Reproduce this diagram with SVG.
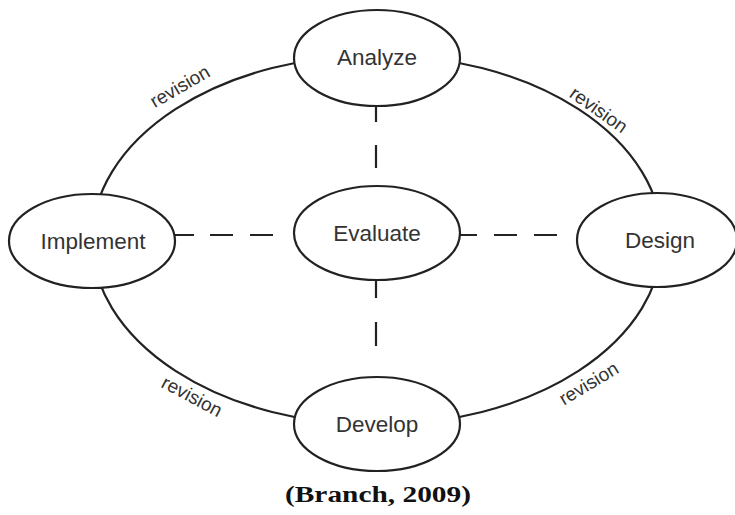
<svg xmlns="http://www.w3.org/2000/svg" width="735" height="515" viewBox="0 0 735 515">
<style>
.node ellipse{fill:#fff;stroke:#222;stroke-width:2.2}
.lbl{font-family:"Liberation Sans",Arial,sans-serif;font-size:22.5px;fill:#333;text-anchor:middle}
.rev{font-family:"Liberation Sans",Arial,sans-serif;font-size:19px;fill:#333;text-anchor:middle}
.dash{stroke:#222;stroke-width:2.2;fill:none}
.cap{font-family:"Liberation Serif","Times New Roman",serif;font-weight:bold;font-size:23px;fill:#111;text-anchor:middle}
</style>
<rect width="735" height="515" fill="#fff"/>
<g id="connectors">
<ellipse cx="377" cy="240" rx="285" ry="185" fill="none" stroke="#222" stroke-width="2.2"/>
<path class="dash" d="M173 235H194M210 235H233M250 235H273M457 235H477M494 235H517M534 235H557M376 100V122M376 145V168M376 279V298M376 322V346"/>
<text class="rev" transform="translate(183,92) rotate(-30)">revision</text>
<text class="rev" transform="translate(595,115) rotate(35)">revision</text>
<text class="rev" transform="translate(189,402) rotate(28)">revision</text>
<text class="rev" transform="translate(592,389) rotate(-31)">revision</text>
</g>
<g id="analyze" class="node"><ellipse cx="377" cy="58" rx="83" ry="48"/><text class="lbl" x="377" y="65">Analyze</text></g>
<g id="implement" class="node"><ellipse cx="92" cy="241" rx="83" ry="47"/><text class="lbl" x="93" y="249">Implement</text></g>
<g id="evaluate" class="node"><ellipse cx="377" cy="233" rx="83" ry="47"/><text class="lbl" x="377" y="241">Evaluate</text></g>
<g id="design" class="node"><ellipse cx="657" cy="240" rx="80" ry="47"/><text class="lbl" x="660" y="248">Design</text></g>
<g id="develop" class="node"><ellipse cx="377" cy="424" rx="83" ry="47"/><text class="lbl" x="377" y="432">Develop</text></g>
<text class="cap" x="378" y="502" textLength="186" lengthAdjust="spacingAndGlyphs">(Branch, 2009)</text>
</svg>
